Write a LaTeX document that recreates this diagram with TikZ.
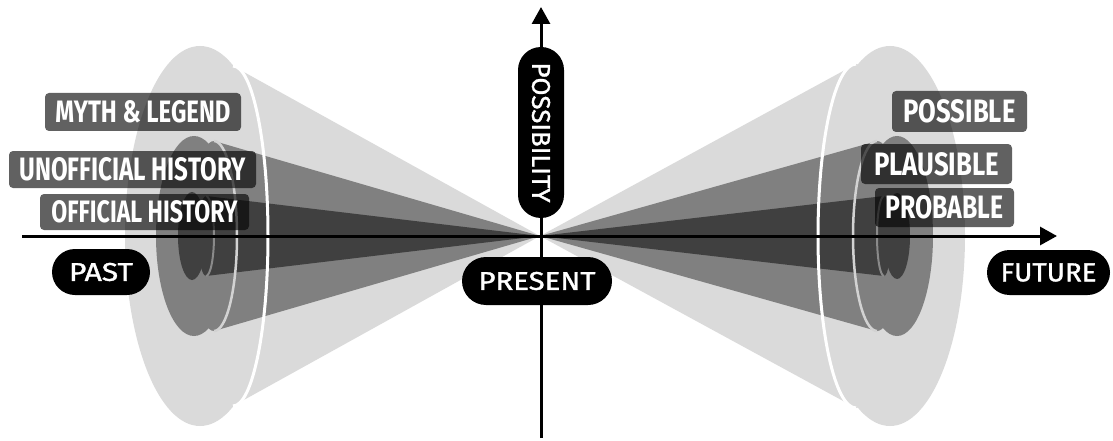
\documentclass[tikz,border=0pt]{standalone}
\usepackage{fontspec}
\setmainfont{Fira Sans}
\newfontfamily\pillfont{Fira Sans}[FakeBold=1.2]
\usetikzlibrary{arrows.meta}
\definecolor{conelight}{HTML}{DADADA}
\definecolor{conemid}{HTML}{808080}
\definecolor{conedark}{HTML}{404040}
\definecolor{rimmid}{HTML}{D2D2D2}
\definecolor{rimdark}{HTML}{8A8A8A}
\begin{document}
\begin{tikzpicture}[x=1pt,y=-1pt,
  labelbox/.style={fill=black, fill opacity=0.62, text opacity=1, text=white,
    rounded corners=4pt, inner sep=0pt, font=\bfseries},
  pill/.style={fill=black, text=white, inner sep=0pt, font=\pillfont},
  axisline/.style={line width=3pt, -{Triangle[length=17pt,width=18pt]}},
  rimwhite/.style={white, line width=3pt},
  rimm/.style={rimmid, line width=2.5pt},
  rimd/.style={rimdark, line width=2pt}]
\useasboundingbox (0,0) rectangle (1113,441);
% ---------- left cone (past) ----------
\fill[conelight] (200,236) ellipse [x radius=75pt, y radius=190pt];
\fill[conelight] (540,236) -- (233,66) -- (233,406) -- cycle;
\fill[conelight] (233,236) ellipse [x radius=35pt, y radius=170pt];
\fill[conemid] (194,236) ellipse [x radius=38pt, y radius=100pt];
\fill[conemid] (540,236) -- (214,141) -- (214,331) -- cycle;
\fill[conemid] (214,236) ellipse [x radius=23pt, y radius=95pt];
\fill[conedark] (192,236) ellipse [x radius=14pt, y radius=44pt];
\fill[conedark] (540,236) -- (206,196) -- (206,276) -- cycle;
\fill[conedark] (206,236) ellipse [x radius=8pt, y radius=40pt];
\draw[rimd] (206,196) arc[start angle=90, end angle=-90, x radius=8pt, y radius=40pt];
\draw[rimm] (214,141) arc[start angle=90, end angle=-90, x radius=23pt, y radius=95pt];
\draw[rimwhite] (233,66) arc[start angle=90, end angle=-90, x radius=35pt, y radius=170pt];
% ---------- right cone (future) ----------
\fill[conelight] (890,236) ellipse [x radius=75pt, y radius=190pt];
\fill[conelight] (540,236) -- (856,64) -- (856,408) -- cycle;
\fill[conelight] (856,236) ellipse [x radius=38pt, y radius=172pt];
\fill[conemid] (897,236) ellipse [x radius=36pt, y radius=100pt];
\fill[conemid] (540,236) -- (877,141) -- (877,331) -- cycle;
\fill[conemid] (877,236) ellipse [x radius=24pt, y radius=95pt];
\fill[conedark] (897,236) ellipse [x radius=13pt, y radius=43pt];
\fill[conedark] (540,236) -- (884,196) -- (884,276) -- cycle;
\fill[conedark] (884,236) ellipse [x radius=7pt, y radius=40pt];
\draw[rimd] (884,196) arc[start angle=90, end angle=270, x radius=7pt, y radius=40pt];
\draw[rimm] (877,141) arc[start angle=90, end angle=270, x radius=24pt, y radius=95pt];
\draw[rimwhite] (856,64) arc[start angle=90, end angle=270, x radius=38pt, y radius=172pt];
% ---------- axes ----------
\coordinate (hstart) at (22,236);
\coordinate (hend) at (1057,236);
\coordinate (vstart) at (541,438);
\coordinate (vend) at (541,7);
\draw[axisline] (hstart) -- (hend);
\draw[axisline] (vstart) -- (vend);
% ---------- labels ----------
\node[labelbox, minimum width=196pt, minimum height=38pt] (myth) at (143,112)
  {\resizebox{175pt}{22pt}{MYTH \& LEGEND}};
\node[labelbox, minimum width=247pt, minimum height=37pt] (unoff) at (132.5,169.5)
  {\resizebox{226pt}{23pt}{UNOFFICIAL HISTORY}};
\node[labelbox, minimum width=209pt, minimum height=36pt] (off) at (144.5,212)
  {\resizebox{186pt}{22pt}{OFFICIAL HISTORY}};
\node[labelbox, minimum width=135pt, minimum height=41pt] (possible) at (959.5,111.5)
  {\resizebox{112pt}{23pt}{POSSIBLE}};
\node[labelbox, minimum width=151pt, minimum height=40pt] (plausible) at (936.5,164)
  {\resizebox{125pt}{23pt}{PLAUSIBLE}};
\node[labelbox, minimum width=139pt, minimum height=39pt] (probable) at (944.5,207.5)
  {\resizebox{118pt}{23pt}{PROBABLE}};
% ---------- pills ----------
\node[pill, minimum width=98pt, minimum height=46pt, rounded corners=23pt] (past) at (101,272)
  {\resizebox{64pt}{18pt}{PAST}};
\node[pill, minimum width=150pt, minimum height=48pt, rounded corners=24pt] (present) at (537,281)
  {\resizebox{117pt}{18pt}{PRESENT}};
\node[pill, minimum width=123pt, minimum height=45pt, rounded corners=22.5pt] (future) at (1048.5,272.5)
  {\resizebox{96pt}{18pt}{FUTURE}};
\node[pill, rotate=-90, minimum width=171pt, minimum height=46pt, rounded corners=23pt] (possibility) at (541,132.5)
  {\resizebox{140pt}{18pt}{POSSIBILITY}};
\end{tikzpicture}
\end{document}
